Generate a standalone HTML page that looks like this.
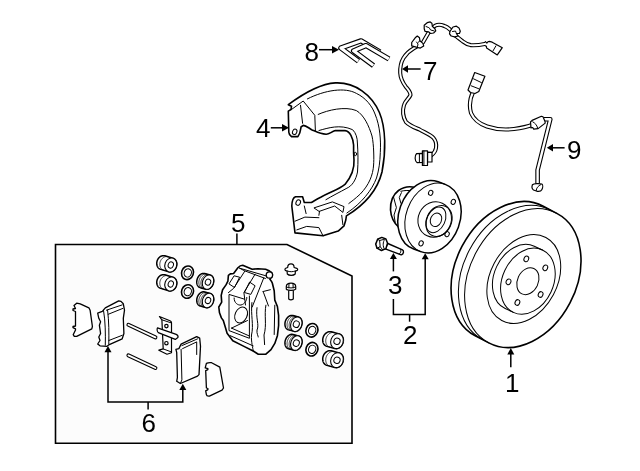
<!DOCTYPE html>
<html><head><meta charset="utf-8">
<style>
html,body{margin:0;padding:0;background:#fff;}
svg{position:absolute;left:0;top:0;}
text{font-family:"Liberation Sans",sans-serif;font-size:26px;fill:#000;}
.k{fill:none;stroke:#000;stroke-width:1.3;stroke-linejoin:round;stroke-linecap:round;}
.t{fill:#fff;stroke:#000;stroke-width:1.1;stroke-linejoin:round;stroke-linecap:round;}
.n{fill:none;stroke:#000;stroke-width:1;stroke-linejoin:round;stroke-linecap:round;}
.b{fill:none;stroke:#000;stroke-width:1.6;}
.ah{fill:#000;stroke:none;}
</style></head><body>
<svg width="640" height="471" viewBox="0 0 640 471">
<!-- box -->
<path class="b" style="fill:#fcfcfc" d="M55.5,244.5 H287 L352,276 V443.3 H55.5 Z"/>





<!-- caliper -->
<g id="caliper">
<path class="t" style="stroke-width:1.6" d="M218.8,307 L221.7,302.1 L221.2,295.4 L222.6,289.7 L226,284.9 L227.9,281.1 L228.4,275.4 L230.3,273.9 L233.6,273.5 L237.9,267.7 C239.5,266 241,265.3 242.7,265.3 L252.2,269.2 L258,268.7 L265.6,269.2 C268,270 270,271 271.5,272.5 C273,274.5 272.5,277 269.9,279.2 C271,280.5 272,282 272.3,283 L274.2,290.7 L274.8,300.1 L277.4,306.5 L278.6,315.4 L278.6,325.5 L277.4,335.7 L274.8,343.4 L271,349.7 L265.9,354.2 L258.3,354.2 L253.2,351 L243,345.9 L232.8,340.8 L227.1,333.2 L225.2,326.8 L223.3,320.5 L221.4,317.9 L219.5,312.8 Z"/>
<g class="n">
<path d="M239.6,268.2 L266.2,275.9"/>
<path d="M239.6,268.2 L244.3,270.7 L265.4,278.5"/>
<path d="M244.8,271.2 L233.6,288.4 L228.4,292.6"/>
<path d="M255.1,274.2 L243.9,292.6 L245.5,305"/>
<path d="M263.7,278 L252.2,307"/>
<path d="M234.5,275.9 L239.6,277.2 L234.5,287.5 L229.3,284.1 Z"/>
<path d="M249.9,282.3 L255.1,285.8 L250.8,294.4 L244.8,292.6 Z"/>
<circle cx="269.4" cy="275" r="3.2" fill="#fff" style="stroke-width:1.3"/>
<path d="M262.8,291.6 L270.4,289.7 M263.5,292.5 L268.5,306"/>
<path d="M229,295 L229,330.6 L249.4,338.3 L249.4,296"/>
<path d="M229.3,294.5 L244.6,299.2"/>
<path d="M231.5,328.1 L248.7,335.7 M231.5,328.1 L247.5,320.5"/>
<path d="M234.1,298 C234,303 238,305.5 241,305 C245,304 247,300 246.8,297.5"/>
<ellipse cx="241.1" cy="315" rx="6" ry="8.3" transform="rotate(25 241.1 315)"/>
<path d="M230.3,335.7 L253.2,345.9"/>
<path d="M251.9,302.6 C250.5,315 254,325 251.5,335 C251,342 253,348 253.2,351"/>
<path d="M257,307.7 C255.5,318 259.5,325 257,330 C256.5,334 258.5,336 258.3,337"/>
<path d="M265.9,305.2 C264,315 267,325 264,335 L264.6,344.6"/>
<path d="M274.8,305.2 L274.2,334.5"/>
</g>
</g>
<!-- bleeder -->
<g class="t" style="stroke-width:1.2">
<path d="M287.7,267.5 C287.7,265 289.5,263.9 291,263.9 C292.5,263.9 294.1,265 294.1,267.5 L296.8,268.3 C298.3,269 297.8,270.6 296,270.9 L295.4,271 L295.2,274 C293.5,275.8 289,275.8 287.3,274 L287.1,271 L286.5,270.9 C284.8,270.6 284.4,269 285.7,268.3 Z"/>
<path class="n" d="M287.3,271 C290,272 292.5,272 295.2,271"/>
<path d="M288.7,290 L288.7,299 C289.8,300 292,300 293.3,299 L293.3,290 Z"/>
<path d="M286.3,289.2 L286.3,286.3 C286.5,284.2 288.5,283.1 291,283.1 C293.5,283.1 295.5,284.2 295.7,286.3 L295.7,289.2 C294.5,290.8 287.5,290.8 286.3,289.2 Z"/>
<path class="n" d="M286.5,287 C289.5,288.3 292.5,288.3 295.5,287 M289,284 L288.8,287.8 M293,284 L293.2,287.8"/>
</g>
<!-- pins -->
<g fill="none" stroke-linecap="round">
<path stroke="#000" stroke-width="4" d="M128.4,324.8 L155.4,337.4 M128.4,355.4 L155.4,368"/>
<path stroke="#fff" stroke-width="1.8" d="M128.4,324.8 L155.4,337.4 M128.4,355.4 L155.4,368"/>
</g>
<!-- spring clip -->
<g class="t" style="stroke-width:1.2">
<path d="M159.4,316.5 L170,320.8 C171,321.3 171.5,321.8 171.5,322.8 L171.5,352.8 L167,354.2 L158.8,350.2 L163.2,348.9 L161.9,319.8 Z"/>
<path class="n" d="M161.9,319.8 L170,322.5 L171.5,322.8 M163.2,348.9 L171.5,352"/>
<path d="M157.5,327.9 L176.2,334.4 C177.5,335 178.3,336.5 177.9,337.6 L175.3,339.4 L158.3,332.6 C157,331.5 156.8,329 157.5,327.9 Z"/>
<circle cx="166.4" cy="326.1" r="1.7"/>
<circle cx="166.4" cy="343.2" r="1.7"/>
</g>
<!-- right pad -->
<g class="t" style="stroke-width:1.3">
<path d="M175.9,349.3 L178.9,348.6 L181.1,344.1 L196.7,336.7 L199.7,338.2 L200.5,346.3 L199,374.6 L197.5,376.1 L180.4,383.5 L176.7,381.3 L177.4,377.5 L176.7,352.3 Z"/>
<g class="n">
<path d="M181.9,345.6 L197.5,338.9 M182.6,348.6 L196.7,341.9 L196.7,354.5 M181.1,349.3 L181.9,379.8 L180.4,383.5"/>
</g>
</g>
<!-- left shim -->
<path class="t" style="stroke-width:1.3" d="M76.7,303.2 L80.2,303.8 L88.9,307.8 L90.1,310.2 L92.4,326.5 L91.8,328.8 L76.7,336.4 L74.3,336.4 L73.2,334.7 L75.5,330 L75.5,328.8 L73,327.7 L73,326.5 L75.5,326 L75.5,311.5 L73,310.5 L73,309 L75.5,308.5 L74,305.5 Z"/>
<!-- left pad -->
<g class="t" style="stroke-width:1.3">
<path d="M97.7,313.1 L102.3,311.3 L105.3,307.8 L118.7,300.8 L121,301.4 L123.3,303.8 L124.5,310.2 L123.3,318.3 L123.9,333.5 L122.2,338.8 L109.3,344.6 L107,346.3 L100,345.8 L97.7,344 L100,340.5 L98.8,337 L100.6,333.5 L99.4,325.3 L100.6,321.8 L98.8,318.3 Z"/>
<g class="n">
<path d="M106.4,310.2 L122.2,304.9 M108.2,314.3 L122.8,308.4"/>
<path d="M107.6,310.2 C109,322 109,333 108.8,344"/>
<path d="M108.8,340.5 L122.2,335.3"/>
<path d="M103.5,310.2 C105.5,322 105.5,334 105.3,345.2"/>
</g>
</g>
<!-- right shim -->
<path class="t" style="stroke-width:1.3" d="M206.4,363.4 C208,362.6 210,362.4 211.6,362.7 L219.8,367.1 L223.5,388 L222,390.2 L209.4,396.1 C207.5,396.3 206.5,395.5 206.4,394.6 L205.7,390.9 L207.9,389.6 L207.9,388.5 L206.4,388 L205.7,370.6 L207.9,369.6 L207.9,368.6 L205.2,367.9 Z"/>
<!-- box contents -->
<g id="kit">
<path d="M156.75,263.29 L156.77,262.83 L156.82,262.38 L156.89,261.92 L156.99,261.47 L157.11,261.02 L157.26,260.58 L157.43,260.15 L157.62,259.73 L157.84,259.32 L158.07,258.92 L158.33,258.54 L158.61,258.18 L158.90,257.84 L159.21,257.52 L159.54,257.22 L159.88,256.94 L160.23,256.68 L160.60,256.46 L160.97,256.25 L161.35,256.08 L161.74,255.93 L162.13,255.81 L162.53,255.72 L162.92,255.66 L163.32,255.63 L163.71,255.63 L164.10,255.66 L164.48,255.72 L164.86,255.81 L172.86,258.21 L173.23,258.33 L173.59,258.47 L173.93,258.65 L174.26,258.85 L174.58,259.08 L174.88,259.33 L175.17,259.61 L175.43,259.91 L175.68,260.23 L175.90,260.57 L176.10,260.94 L176.28,261.31 L176.44,261.71 L176.57,262.12 L176.68,262.54 L176.76,262.97 L176.82,263.41 L176.85,263.86 L176.85,264.31 L176.83,264.77 L176.78,265.22 L176.71,265.68 L176.61,266.13 L176.49,266.58 L176.34,267.02 L176.17,267.45 L175.98,267.87 L175.76,268.28 L175.53,268.68 L175.27,269.06 L174.99,269.42 L174.70,269.76 L174.39,270.08 L174.06,270.38 L173.72,270.66 L173.37,270.92 L173.00,271.14 L172.63,271.35 L172.25,271.52 L171.86,271.67 L171.47,271.79 L171.07,271.88 L170.68,271.94 L170.28,271.97 L169.89,271.97 L169.50,271.94 L169.12,271.88 L168.74,271.79 L160.74,269.39 L160.37,269.27 L160.01,269.13 L159.67,268.95 L159.34,268.75 L159.02,268.52 L158.72,268.27 L158.43,267.99 L158.17,267.69 L157.92,267.37 L157.70,267.03 L157.50,266.66 L157.32,266.29 L157.16,265.89 L157.03,265.48 L156.92,265.06 L156.84,264.63 L156.78,264.19 L156.75,263.74 Z" fill="#fff" stroke="#000" stroke-width="1.5" stroke-linejoin="round"/><path class="n" style="stroke-width:0.8" d="M163.41,270.18 L163.05,270.04 L162.71,269.86 L162.38,269.66 L162.06,269.43 L161.76,269.18 L161.47,268.90 L161.21,268.60 L160.96,268.28 L160.74,267.94 L160.54,267.58 L160.36,267.20 L160.20,266.80 L160.07,266.39 L159.96,265.97 L159.88,265.54 L159.82,265.10 L159.79,264.65 L159.79,264.20 L159.81,263.75 L159.86,263.29 L159.93,262.83 L160.03,262.38 L160.15,261.93 L160.30,261.49 L160.47,261.06 L160.66,260.64 L160.88,260.23 L161.11,259.84 L161.37,259.46 L161.65,259.09 L161.94,258.75 L162.25,258.43 L162.58,258.13 L162.92,257.85 L163.27,257.60 L163.64,257.37 L164.01,257.17 L164.39,256.99 L164.78,256.84 L165.17,256.73 L165.57,256.64 L165.96,256.58 L166.36,256.55 L166.75,256.55 L167.14,256.57 L167.52,256.63 L167.90,256.72"/><ellipse cx="170.8" cy="265" rx="5.9" ry="7.1" transform="rotate(20 170.8 265)" fill="#fff" stroke="#000" stroke-width="1.1"/><ellipse cx="170.8" cy="265" rx="2.6" ry="3.2" transform="rotate(20 170.8 265)" fill="none" stroke="#000" stroke-width="1.0"/>
<path d="M156.75,282.29 L156.77,281.83 L156.82,281.38 L156.89,280.92 L156.99,280.47 L157.11,280.02 L157.26,279.58 L157.43,279.15 L157.62,278.73 L157.84,278.32 L158.07,277.92 L158.33,277.54 L158.61,277.18 L158.90,276.84 L159.21,276.52 L159.54,276.22 L159.88,275.94 L160.23,275.68 L160.60,275.46 L160.97,275.25 L161.35,275.08 L161.74,274.93 L162.13,274.81 L162.53,274.72 L162.92,274.66 L163.32,274.63 L163.71,274.63 L164.10,274.66 L164.48,274.72 L164.86,274.81 L172.86,277.21 L173.23,277.33 L173.59,277.47 L173.93,277.65 L174.26,277.85 L174.58,278.08 L174.88,278.33 L175.17,278.61 L175.43,278.91 L175.68,279.23 L175.90,279.57 L176.10,279.94 L176.28,280.31 L176.44,280.71 L176.57,281.12 L176.68,281.54 L176.76,281.97 L176.82,282.41 L176.85,282.86 L176.85,283.31 L176.83,283.77 L176.78,284.22 L176.71,284.68 L176.61,285.13 L176.49,285.58 L176.34,286.02 L176.17,286.45 L175.98,286.87 L175.76,287.28 L175.53,287.68 L175.27,288.06 L174.99,288.42 L174.70,288.76 L174.39,289.08 L174.06,289.38 L173.72,289.66 L173.37,289.92 L173.00,290.14 L172.63,290.35 L172.25,290.52 L171.86,290.67 L171.47,290.79 L171.07,290.88 L170.68,290.94 L170.28,290.97 L169.89,290.97 L169.50,290.94 L169.12,290.88 L168.74,290.79 L160.74,288.39 L160.37,288.27 L160.01,288.13 L159.67,287.95 L159.34,287.75 L159.02,287.52 L158.72,287.27 L158.43,286.99 L158.17,286.69 L157.92,286.37 L157.70,286.03 L157.50,285.66 L157.32,285.29 L157.16,284.89 L157.03,284.48 L156.92,284.06 L156.84,283.63 L156.78,283.19 L156.75,282.74 Z" fill="#fff" stroke="#000" stroke-width="1.5" stroke-linejoin="round"/><path class="n" style="stroke-width:0.8" d="M163.41,289.18 L163.05,289.04 L162.71,288.86 L162.38,288.66 L162.06,288.43 L161.76,288.18 L161.47,287.90 L161.21,287.60 L160.96,287.28 L160.74,286.94 L160.54,286.58 L160.36,286.20 L160.20,285.80 L160.07,285.39 L159.96,284.97 L159.88,284.54 L159.82,284.10 L159.79,283.65 L159.79,283.20 L159.81,282.75 L159.86,282.29 L159.93,281.83 L160.03,281.38 L160.15,280.93 L160.30,280.49 L160.47,280.06 L160.66,279.64 L160.88,279.23 L161.11,278.84 L161.37,278.46 L161.65,278.09 L161.94,277.75 L162.25,277.43 L162.58,277.13 L162.92,276.85 L163.27,276.60 L163.64,276.37 L164.01,276.17 L164.39,275.99 L164.78,275.84 L165.17,275.73 L165.57,275.64 L165.96,275.58 L166.36,275.55 L166.75,275.55 L167.14,275.57 L167.52,275.63 L167.90,275.72"/><ellipse cx="170.8" cy="284" rx="5.9" ry="7.1" transform="rotate(20 170.8 284)" fill="#fff" stroke="#000" stroke-width="1.1"/><ellipse cx="170.8" cy="284" rx="2.6" ry="3.2" transform="rotate(20 170.8 284)" fill="none" stroke="#000" stroke-width="1.0"/>
<g transform="translate(187.5,272.8) rotate(20)"><ellipse cx="0" cy="0" rx="5.9" ry="6.9" fill="#fff" stroke="#000" stroke-width="1.6"/><ellipse cx="0.3" cy="0" rx="3.6" ry="4.2" fill="none" stroke="#000" stroke-width="1"/></g>
<g transform="translate(187.5,291.5) rotate(20)"><ellipse cx="0" cy="0" rx="5.9" ry="6.9" fill="#fff" stroke="#000" stroke-width="1.6"/><ellipse cx="0.3" cy="0" rx="3.6" ry="4.2" fill="none" stroke="#000" stroke-width="1"/></g>
<path d="M196.75,281.99 L196.76,281.52 L196.79,281.05 L196.85,280.58 L196.94,280.11 L197.05,279.64 L197.18,279.18 L197.33,278.72 L197.51,278.27 L197.71,277.83 L197.92,277.40 L198.16,276.98 L198.42,276.58 L198.69,276.20 L198.98,275.84 L199.29,275.49 L199.61,275.17 L199.94,274.87 L200.28,274.60 L200.64,274.35 L201.00,274.13 L201.36,273.94 L201.73,273.77 L202.11,273.64 L202.48,273.53 L202.86,273.46 L203.24,273.41 L203.61,273.40 L203.97,273.41 L204.33,273.46 L204.69,273.54 L210.19,275.04 L210.53,275.15 L210.86,275.28 L211.18,275.45 L211.49,275.65 L211.78,275.87 L212.06,276.12 L212.32,276.40 L212.56,276.70 L212.78,277.02 L212.98,277.36 L213.15,277.73 L213.31,278.11 L213.44,278.51 L213.55,278.93 L213.64,279.36 L213.70,279.80 L213.74,280.25 L213.75,280.71 L213.74,281.18 L213.71,281.65 L213.65,282.12 L213.56,282.59 L213.45,283.06 L213.32,283.52 L213.17,283.98 L212.99,284.43 L212.79,284.87 L212.58,285.30 L212.34,285.72 L212.08,286.12 L211.81,286.50 L211.52,286.86 L211.21,287.21 L210.89,287.53 L210.56,287.83 L210.22,288.10 L209.86,288.35 L209.50,288.57 L209.14,288.76 L208.77,288.93 L208.39,289.06 L208.02,289.17 L207.64,289.24 L207.26,289.29 L206.89,289.30 L206.53,289.29 L206.17,289.24 L205.81,289.16 L200.31,287.66 L199.97,287.55 L199.64,287.42 L199.32,287.25 L199.01,287.05 L198.72,286.83 L198.44,286.58 L198.18,286.30 L197.94,286.00 L197.72,285.68 L197.52,285.34 L197.35,284.97 L197.19,284.59 L197.06,284.19 L196.95,283.77 L196.86,283.34 L196.80,282.90 L196.76,282.45 Z" fill="#fff" stroke="#000" stroke-width="1.5" stroke-linejoin="round"/><path class="n" style="stroke-width:0.8" d="M202.06,288.12 L201.73,287.99 L201.41,287.82 L201.10,287.62 L200.81,287.40 L200.53,287.15 L200.27,286.87 L200.03,286.57 L199.81,286.25 L199.61,285.91 L199.44,285.54 L199.28,285.16 L199.15,284.76 L199.04,284.34 L198.95,283.91 L198.89,283.47 L198.85,283.02 L198.84,282.56 L198.85,282.09 L198.88,281.62 L198.94,281.15 L199.03,280.68 L199.14,280.21 L199.27,279.75 L199.42,279.29 L199.60,278.84 L199.80,278.40 L200.01,277.97 L200.25,277.55 L200.51,277.15 L200.78,276.77 L201.07,276.41 L201.38,276.06 L201.70,275.74 L202.03,275.44 L202.37,275.17 L202.73,274.92 L203.09,274.70 L203.45,274.51 L203.82,274.34 L204.20,274.21 L204.57,274.10 L204.95,274.03 L205.33,273.98 L205.70,273.97 L206.06,273.98 L206.42,274.03 L206.78,274.11"/><path class="n" style="stroke-width:0.8" d="M204.09,288.68 L203.76,288.54 L203.44,288.37 L203.13,288.18 L202.84,287.95 L202.57,287.71 L202.31,287.43 L202.07,287.13 L201.85,286.81 L201.65,286.46 L201.47,286.10 L201.31,285.71 L201.18,285.31 L201.07,284.90 L200.98,284.47 L200.92,284.02 L200.88,283.57 L200.87,283.11 L200.88,282.65 L200.92,282.18 L200.98,281.71 L201.06,281.24 L201.17,280.77 L201.30,280.30 L201.46,279.84 L201.63,279.39 L201.83,278.95 L202.05,278.52 L202.29,278.11 L202.54,277.71 L202.82,277.33 L203.11,276.96 L203.41,276.62 L203.73,276.30 L204.07,276.00 L204.41,275.73 L204.76,275.48 L205.12,275.26 L205.49,275.06 L205.86,274.90 L206.23,274.76 L206.61,274.66 L206.99,274.58 L207.36,274.54 L207.73,274.52 L208.10,274.54 L208.46,274.59 L208.81,274.66"/><ellipse cx="208" cy="282.1" rx="5.5" ry="7.4" transform="rotate(20 208 282.1)" fill="#fff" stroke="#000" stroke-width="1.1"/><ellipse cx="208" cy="282.1" rx="2.7" ry="3.1" transform="rotate(20 208 282.1)" fill="none" stroke="#000" stroke-width="1.0"/>
<path d="M196.75,300.39 L196.76,299.92 L196.79,299.45 L196.85,298.98 L196.94,298.51 L197.05,298.04 L197.18,297.58 L197.33,297.12 L197.51,296.67 L197.71,296.23 L197.92,295.80 L198.16,295.38 L198.42,294.98 L198.69,294.60 L198.98,294.24 L199.29,293.89 L199.61,293.57 L199.94,293.27 L200.28,293.00 L200.64,292.75 L201.00,292.53 L201.36,292.34 L201.73,292.17 L202.11,292.04 L202.48,291.93 L202.86,291.86 L203.24,291.81 L203.61,291.80 L203.97,291.81 L204.33,291.86 L204.69,291.94 L210.19,293.44 L210.53,293.55 L210.86,293.68 L211.18,293.85 L211.49,294.05 L211.78,294.27 L212.06,294.52 L212.32,294.80 L212.56,295.10 L212.78,295.42 L212.98,295.76 L213.15,296.13 L213.31,296.51 L213.44,296.91 L213.55,297.33 L213.64,297.76 L213.70,298.20 L213.74,298.65 L213.75,299.11 L213.74,299.58 L213.71,300.05 L213.65,300.52 L213.56,300.99 L213.45,301.46 L213.32,301.92 L213.17,302.38 L212.99,302.83 L212.79,303.27 L212.58,303.70 L212.34,304.12 L212.08,304.52 L211.81,304.90 L211.52,305.26 L211.21,305.61 L210.89,305.93 L210.56,306.23 L210.22,306.50 L209.86,306.75 L209.50,306.97 L209.14,307.16 L208.77,307.33 L208.39,307.46 L208.02,307.57 L207.64,307.64 L207.26,307.69 L206.89,307.70 L206.53,307.69 L206.17,307.64 L205.81,307.56 L200.31,306.06 L199.97,305.95 L199.64,305.82 L199.32,305.65 L199.01,305.45 L198.72,305.23 L198.44,304.98 L198.18,304.70 L197.94,304.40 L197.72,304.08 L197.52,303.74 L197.35,303.37 L197.19,302.99 L197.06,302.59 L196.95,302.17 L196.86,301.74 L196.80,301.30 L196.76,300.85 Z" fill="#fff" stroke="#000" stroke-width="1.5" stroke-linejoin="round"/><path class="n" style="stroke-width:0.8" d="M202.06,306.52 L201.73,306.39 L201.41,306.22 L201.10,306.02 L200.81,305.80 L200.53,305.55 L200.27,305.27 L200.03,304.97 L199.81,304.65 L199.61,304.31 L199.44,303.94 L199.28,303.56 L199.15,303.16 L199.04,302.74 L198.95,302.31 L198.89,301.87 L198.85,301.42 L198.84,300.96 L198.85,300.49 L198.88,300.02 L198.94,299.55 L199.03,299.08 L199.14,298.61 L199.27,298.15 L199.42,297.69 L199.60,297.24 L199.80,296.80 L200.01,296.37 L200.25,295.95 L200.51,295.55 L200.78,295.17 L201.07,294.81 L201.38,294.46 L201.70,294.14 L202.03,293.84 L202.37,293.57 L202.73,293.32 L203.09,293.10 L203.45,292.91 L203.82,292.74 L204.20,292.61 L204.57,292.50 L204.95,292.43 L205.33,292.38 L205.70,292.37 L206.06,292.38 L206.42,292.43 L206.78,292.51"/><path class="n" style="stroke-width:0.8" d="M204.09,307.08 L203.76,306.94 L203.44,306.77 L203.13,306.58 L202.84,306.35 L202.57,306.11 L202.31,305.83 L202.07,305.53 L201.85,305.21 L201.65,304.86 L201.47,304.50 L201.31,304.11 L201.18,303.71 L201.07,303.30 L200.98,302.87 L200.92,302.42 L200.88,301.97 L200.87,301.51 L200.88,301.05 L200.92,300.58 L200.98,300.11 L201.06,299.64 L201.17,299.17 L201.30,298.70 L201.46,298.24 L201.63,297.79 L201.83,297.35 L202.05,296.92 L202.29,296.51 L202.54,296.11 L202.82,295.73 L203.11,295.36 L203.41,295.02 L203.73,294.70 L204.07,294.40 L204.41,294.13 L204.76,293.88 L205.12,293.66 L205.49,293.46 L205.86,293.30 L206.23,293.16 L206.61,293.06 L206.99,292.98 L207.36,292.94 L207.73,292.92 L208.10,292.94 L208.46,292.99 L208.81,293.06"/><ellipse cx="208" cy="300.5" rx="5.5" ry="7.4" transform="rotate(20 208 300.5)" fill="#fff" stroke="#000" stroke-width="1.1"/><ellipse cx="208" cy="300.5" rx="2.7" ry="3.1" transform="rotate(20 208 300.5)" fill="none" stroke="#000" stroke-width="1.0"/>
<path d="M284.93,324.13 L284.94,323.66 L284.98,323.18 L285.04,322.71 L285.13,322.23 L285.24,321.75 L285.37,321.28 L285.53,320.82 L285.71,320.36 L285.91,319.92 L286.13,319.48 L286.37,319.06 L286.63,318.65 L286.91,318.27 L287.20,317.90 L287.51,317.55 L287.83,317.22 L288.16,316.92 L288.51,316.64 L288.86,316.39 L289.22,316.16 L289.59,315.96 L289.96,315.79 L290.34,315.66 L290.71,315.55 L291.09,315.47 L291.47,315.42 L291.84,315.41 L292.21,315.42 L292.57,315.47 L292.92,315.54 L298.52,317.04 L298.87,317.15 L299.20,317.29 L299.52,317.46 L299.82,317.65 L300.12,317.88 L300.39,318.13 L300.65,318.41 L300.89,318.71 L301.11,319.04 L301.30,319.39 L301.48,319.75 L301.64,320.14 L301.77,320.55 L301.88,320.97 L301.96,321.40 L302.02,321.85 L302.06,322.31 L302.07,322.77 L302.06,323.24 L302.02,323.72 L301.96,324.19 L301.87,324.67 L301.76,325.15 L301.63,325.62 L301.47,326.08 L301.29,326.54 L301.09,326.98 L300.87,327.42 L300.63,327.84 L300.37,328.25 L300.09,328.63 L299.80,329.00 L299.49,329.35 L299.17,329.68 L298.84,329.98 L298.49,330.26 L298.14,330.51 L297.78,330.74 L297.41,330.94 L297.04,331.11 L296.66,331.24 L296.29,331.35 L295.91,331.43 L295.53,331.48 L295.16,331.49 L294.79,331.48 L294.43,331.43 L294.08,331.36 L288.48,329.86 L288.13,329.75 L287.80,329.61 L287.48,329.44 L287.18,329.25 L286.88,329.02 L286.61,328.77 L286.35,328.49 L286.11,328.19 L285.89,327.86 L285.70,327.51 L285.52,327.15 L285.36,326.76 L285.23,326.35 L285.12,325.93 L285.04,325.50 L284.98,325.05 L284.94,324.59 Z" fill="#fff" stroke="#000" stroke-width="1.5" stroke-linejoin="round"/><path class="n" style="stroke-width:0.8" d="M290.26,330.32 L289.93,330.18 L289.61,330.01 L289.30,329.82 L289.01,329.59 L288.74,329.34 L288.48,329.06 L288.24,328.76 L288.02,328.43 L287.82,328.08 L287.65,327.72 L287.49,327.33 L287.36,326.92 L287.25,326.50 L287.17,326.07 L287.11,325.62 L287.07,325.16 L287.06,324.70 L287.07,324.23 L287.11,323.75 L287.17,323.28 L287.26,322.80 L287.37,322.32 L287.50,321.85 L287.66,321.39 L287.84,320.93 L288.04,320.49 L288.26,320.05 L288.50,319.63 L288.76,319.22 L289.03,318.84 L289.33,318.47 L289.63,318.12 L289.96,317.79 L290.29,317.49 L290.63,317.21 L290.99,316.96 L291.35,316.73 L291.72,316.53 L292.09,316.36 L292.47,316.23 L292.84,316.12 L293.22,316.04 L293.60,315.99 L293.97,315.98 L294.34,315.99 L294.70,316.04 L295.05,316.11"/><path class="n" style="stroke-width:0.8" d="M292.33,330.87 L292.00,330.73 L291.68,330.57 L291.38,330.37 L291.08,330.15 L290.81,329.89 L290.55,329.62 L290.31,329.31 L290.09,328.99 L289.90,328.64 L289.72,328.27 L289.56,327.88 L289.43,327.48 L289.32,327.06 L289.24,326.62 L289.18,326.18 L289.14,325.72 L289.13,325.25 L289.14,324.78 L289.18,324.31 L289.24,323.83 L289.33,323.35 L289.44,322.88 L289.57,322.41 L289.73,321.94 L289.91,321.49 L290.11,321.04 L290.33,320.61 L290.57,320.18 L290.83,319.78 L291.11,319.39 L291.40,319.02 L291.71,318.67 L292.03,318.35 L292.36,318.04 L292.71,317.76 L293.06,317.51 L293.42,317.29 L293.79,317.09 L294.16,316.92 L294.54,316.78 L294.91,316.67 L295.29,316.59 L295.67,316.55 L296.04,316.53 L296.41,316.55 L296.77,316.59 L297.12,316.67"/><ellipse cx="296.3" cy="324.2" rx="5.5" ry="7.5" transform="rotate(20 296.3 324.2)" fill="#fff" stroke="#000" stroke-width="1.1"/><ellipse cx="296.3" cy="324.2" rx="3.0" ry="3.3" transform="rotate(20 296.3 324.2)" fill="none" stroke="#000" stroke-width="1.0"/>
<path d="M284.93,343.03 L284.94,342.56 L284.98,342.08 L285.04,341.61 L285.13,341.13 L285.24,340.65 L285.37,340.18 L285.53,339.72 L285.71,339.26 L285.91,338.82 L286.13,338.38 L286.37,337.96 L286.63,337.55 L286.91,337.17 L287.20,336.80 L287.51,336.45 L287.83,336.12 L288.16,335.82 L288.51,335.54 L288.86,335.29 L289.22,335.06 L289.59,334.86 L289.96,334.69 L290.34,334.56 L290.71,334.45 L291.09,334.37 L291.47,334.32 L291.84,334.31 L292.21,334.32 L292.57,334.37 L292.92,334.44 L298.52,335.94 L298.87,336.05 L299.20,336.19 L299.52,336.36 L299.82,336.55 L300.12,336.78 L300.39,337.03 L300.65,337.31 L300.89,337.61 L301.11,337.94 L301.30,338.29 L301.48,338.65 L301.64,339.04 L301.77,339.45 L301.88,339.87 L301.96,340.30 L302.02,340.75 L302.06,341.21 L302.07,341.67 L302.06,342.14 L302.02,342.62 L301.96,343.09 L301.87,343.57 L301.76,344.05 L301.63,344.52 L301.47,344.98 L301.29,345.44 L301.09,345.88 L300.87,346.32 L300.63,346.74 L300.37,347.15 L300.09,347.53 L299.80,347.90 L299.49,348.25 L299.17,348.58 L298.84,348.88 L298.49,349.16 L298.14,349.41 L297.78,349.64 L297.41,349.84 L297.04,350.01 L296.66,350.14 L296.29,350.25 L295.91,350.33 L295.53,350.38 L295.16,350.39 L294.79,350.38 L294.43,350.33 L294.08,350.26 L288.48,348.76 L288.13,348.65 L287.80,348.51 L287.48,348.34 L287.18,348.15 L286.88,347.92 L286.61,347.67 L286.35,347.39 L286.11,347.09 L285.89,346.76 L285.70,346.41 L285.52,346.05 L285.36,345.66 L285.23,345.25 L285.12,344.83 L285.04,344.40 L284.98,343.95 L284.94,343.49 Z" fill="#fff" stroke="#000" stroke-width="1.5" stroke-linejoin="round"/><path class="n" style="stroke-width:0.8" d="M290.26,349.22 L289.93,349.08 L289.61,348.91 L289.30,348.72 L289.01,348.49 L288.74,348.24 L288.48,347.96 L288.24,347.66 L288.02,347.33 L287.82,346.98 L287.65,346.62 L287.49,346.23 L287.36,345.82 L287.25,345.40 L287.17,344.97 L287.11,344.52 L287.07,344.06 L287.06,343.60 L287.07,343.13 L287.11,342.65 L287.17,342.18 L287.26,341.70 L287.37,341.22 L287.50,340.75 L287.66,340.29 L287.84,339.83 L288.04,339.39 L288.26,338.95 L288.50,338.53 L288.76,338.12 L289.03,337.74 L289.33,337.37 L289.63,337.02 L289.96,336.69 L290.29,336.39 L290.63,336.11 L290.99,335.86 L291.35,335.63 L291.72,335.43 L292.09,335.26 L292.47,335.13 L292.84,335.02 L293.22,334.94 L293.60,334.89 L293.97,334.88 L294.34,334.89 L294.70,334.94 L295.05,335.01"/><path class="n" style="stroke-width:0.8" d="M292.33,349.77 L292.00,349.63 L291.68,349.47 L291.38,349.27 L291.08,349.05 L290.81,348.79 L290.55,348.52 L290.31,348.21 L290.09,347.89 L289.90,347.54 L289.72,347.17 L289.56,346.78 L289.43,346.38 L289.32,345.96 L289.24,345.52 L289.18,345.08 L289.14,344.62 L289.13,344.15 L289.14,343.68 L289.18,343.21 L289.24,342.73 L289.33,342.25 L289.44,341.78 L289.57,341.31 L289.73,340.84 L289.91,340.39 L290.11,339.94 L290.33,339.51 L290.57,339.08 L290.83,338.68 L291.11,338.29 L291.40,337.92 L291.71,337.57 L292.03,337.25 L292.36,336.94 L292.71,336.66 L293.06,336.41 L293.42,336.19 L293.79,335.99 L294.16,335.82 L294.54,335.68 L294.91,335.57 L295.29,335.49 L295.67,335.45 L296.04,335.43 L296.41,335.45 L296.77,335.49 L297.12,335.57"/><ellipse cx="296.3" cy="343.1" rx="5.5" ry="7.5" transform="rotate(20 296.3 343.1)" fill="#fff" stroke="#000" stroke-width="1.1"/><ellipse cx="296.3" cy="343.1" rx="3.0" ry="3.3" transform="rotate(20 296.3 343.1)" fill="none" stroke="#000" stroke-width="1.0"/>
<g transform="translate(311.9,330.3) rotate(20)"><ellipse cx="0" cy="0" rx="5.9" ry="6.9" fill="#fff" stroke="#000" stroke-width="1.6"/><ellipse cx="0.3" cy="0" rx="3.6" ry="4.2" fill="none" stroke="#000" stroke-width="1"/></g>
<g transform="translate(311.9,349.2) rotate(20)"><ellipse cx="0" cy="0" rx="5.9" ry="6.9" fill="#fff" stroke="#000" stroke-width="1.6"/><ellipse cx="0.3" cy="0" rx="3.6" ry="4.2" fill="none" stroke="#000" stroke-width="1"/></g>
<path d="M322.72,339.87 L322.75,339.39 L322.80,338.90 L322.88,338.41 L322.98,337.93 L323.12,337.45 L323.27,336.98 L323.46,336.52 L323.66,336.07 L323.89,335.63 L324.15,335.20 L324.42,334.80 L324.71,334.41 L325.02,334.04 L325.35,333.69 L325.70,333.37 L326.06,333.07 L326.43,332.80 L326.82,332.55 L327.21,332.33 L327.62,332.14 L328.02,331.98 L328.44,331.85 L328.85,331.76 L329.27,331.69 L329.69,331.66 L330.10,331.65 L330.51,331.68 L330.92,331.74 L331.31,331.83 L339.21,333.93 L339.60,334.06 L339.97,334.21 L340.34,334.40 L340.69,334.61 L341.02,334.85 L341.33,335.12 L341.63,335.41 L341.91,335.73 L342.16,336.08 L342.40,336.44 L342.61,336.83 L342.80,337.23 L342.96,337.65 L343.09,338.09 L343.20,338.53 L343.29,339.00 L343.35,339.47 L343.37,339.94 L343.38,340.43 L343.35,340.91 L343.30,341.40 L343.22,341.89 L343.12,342.37 L342.98,342.85 L342.83,343.32 L342.64,343.78 L342.44,344.23 L342.21,344.67 L341.95,345.10 L341.68,345.50 L341.39,345.89 L341.08,346.26 L340.75,346.61 L340.40,346.93 L340.04,347.23 L339.67,347.50 L339.28,347.75 L338.89,347.97 L338.48,348.16 L338.08,348.32 L337.66,348.45 L337.25,348.54 L336.83,348.61 L336.41,348.64 L336.00,348.65 L335.59,348.62 L335.18,348.56 L334.79,348.47 L326.89,346.37 L326.50,346.24 L326.13,346.09 L325.76,345.90 L325.41,345.69 L325.08,345.45 L324.77,345.18 L324.47,344.89 L324.19,344.57 L323.94,344.22 L323.70,343.86 L323.49,343.47 L323.30,343.07 L323.14,342.65 L323.01,342.21 L322.90,341.77 L322.81,341.30 L322.75,340.83 L322.73,340.36 Z" fill="#fff" stroke="#000" stroke-width="1.5" stroke-linejoin="round"/><path class="n" style="stroke-width:0.8" d="M329.89,347.16 L329.50,347.04 L329.13,346.89 L328.76,346.70 L328.42,346.49 L328.08,346.25 L327.77,345.98 L327.47,345.68 L327.19,345.37 L326.94,345.02 L326.70,344.66 L326.49,344.27 L326.31,343.87 L326.14,343.45 L326.01,343.01 L325.90,342.56 L325.81,342.10 L325.76,341.63 L325.73,341.15 L325.72,340.67 L325.75,340.19 L325.80,339.70 L325.88,339.21 L325.99,338.73 L326.12,338.25 L326.28,337.78 L326.46,337.31 L326.67,336.86 L326.89,336.42 L327.15,336.00 L327.42,335.59 L327.71,335.21 L328.03,334.84 L328.36,334.49 L328.70,334.17 L329.06,333.87 L329.44,333.59 L329.82,333.35 L330.21,333.13 L330.62,332.94 L331.03,332.78 L331.44,332.65 L331.86,332.55 L332.27,332.49 L332.69,332.45 L333.10,332.45 L333.51,332.48 L333.92,332.54"/><ellipse cx="337" cy="341.2" rx="6.2" ry="7.6" transform="rotate(20 337 341.2)" fill="#fff" stroke="#000" stroke-width="1.1"/><ellipse cx="337" cy="341.2" rx="3.1" ry="3.2" transform="rotate(20 337 341.2)" fill="none" stroke="#000" stroke-width="1.0"/>
<path d="M322.72,358.87 L322.75,358.39 L322.80,357.90 L322.88,357.41 L322.98,356.93 L323.12,356.45 L323.27,355.98 L323.46,355.52 L323.66,355.07 L323.89,354.63 L324.15,354.20 L324.42,353.80 L324.71,353.41 L325.02,353.04 L325.35,352.69 L325.70,352.37 L326.06,352.07 L326.43,351.80 L326.82,351.55 L327.21,351.33 L327.62,351.14 L328.02,350.98 L328.44,350.85 L328.85,350.76 L329.27,350.69 L329.69,350.66 L330.10,350.65 L330.51,350.68 L330.92,350.74 L331.31,350.83 L339.21,352.93 L339.60,353.06 L339.97,353.21 L340.34,353.40 L340.69,353.61 L341.02,353.85 L341.33,354.12 L341.63,354.41 L341.91,354.73 L342.16,355.08 L342.40,355.44 L342.61,355.83 L342.80,356.23 L342.96,356.65 L343.09,357.09 L343.20,357.53 L343.29,358.00 L343.35,358.47 L343.37,358.94 L343.38,359.43 L343.35,359.91 L343.30,360.40 L343.22,360.89 L343.12,361.37 L342.98,361.85 L342.83,362.32 L342.64,362.78 L342.44,363.23 L342.21,363.67 L341.95,364.10 L341.68,364.50 L341.39,364.89 L341.08,365.26 L340.75,365.61 L340.40,365.93 L340.04,366.23 L339.67,366.50 L339.28,366.75 L338.89,366.97 L338.48,367.16 L338.08,367.32 L337.66,367.45 L337.25,367.54 L336.83,367.61 L336.41,367.64 L336.00,367.65 L335.59,367.62 L335.18,367.56 L334.79,367.47 L326.89,365.37 L326.50,365.24 L326.13,365.09 L325.76,364.90 L325.41,364.69 L325.08,364.45 L324.77,364.18 L324.47,363.89 L324.19,363.57 L323.94,363.22 L323.70,362.86 L323.49,362.47 L323.30,362.07 L323.14,361.65 L323.01,361.21 L322.90,360.77 L322.81,360.30 L322.75,359.83 L322.73,359.36 Z" fill="#fff" stroke="#000" stroke-width="1.5" stroke-linejoin="round"/><path class="n" style="stroke-width:0.8" d="M329.89,366.16 L329.50,366.04 L329.13,365.89 L328.76,365.70 L328.42,365.49 L328.08,365.25 L327.77,364.98 L327.47,364.68 L327.19,364.37 L326.94,364.02 L326.70,363.66 L326.49,363.27 L326.31,362.87 L326.14,362.45 L326.01,362.01 L325.90,361.56 L325.81,361.10 L325.76,360.63 L325.73,360.15 L325.72,359.67 L325.75,359.19 L325.80,358.70 L325.88,358.21 L325.99,357.73 L326.12,357.25 L326.28,356.78 L326.46,356.31 L326.67,355.86 L326.89,355.42 L327.15,355.00 L327.42,354.59 L327.71,354.21 L328.03,353.84 L328.36,353.49 L328.70,353.17 L329.06,352.87 L329.44,352.59 L329.82,352.35 L330.21,352.13 L330.62,351.94 L331.03,351.78 L331.44,351.65 L331.86,351.55 L332.27,351.49 L332.69,351.45 L333.10,351.45 L333.51,351.48 L333.92,351.54"/><ellipse cx="337" cy="360.2" rx="6.2" ry="7.6" transform="rotate(20 337 360.2)" fill="#fff" stroke="#000" stroke-width="1.1"/><ellipse cx="337" cy="360.2" rx="3.1" ry="3.2" transform="rotate(20 337 360.2)" fill="none" stroke="#000" stroke-width="1.0"/>
</g>
<!-- clip part 8 -->
<g id="clip8" fill="none" stroke-linejoin="round" stroke-linecap="butt">
<path stroke="#000" stroke-width="5.2" d="M358.5,61.2 L340.8,48 L361,40.8 L380,52"/>
<path stroke="#fff" stroke-width="3" d="M358.2,61 L340.8,48 L361,40.8 L379.8,51.9"/>
<path stroke="#000" stroke-width="5.2" d="M373.5,65.6 L353.5,50.8 L366,45.5 L389,59"/>
<path stroke="#fff" stroke-width="3" d="M373.2,65.4 L353.5,50.8 L366,45.5 L388.8,58.9"/>
</g>
<!-- wire part 7 -->
<g id="wire7" fill="none" stroke-linejoin="round" stroke-linecap="butt">
<path stroke="#000" stroke-width="4.1" d="M486,43.7 C482,44.5 475,45.6 470.6,45.1 C466,44.2 464,42.2 462.2,40.9 C459,38.5 457,37 455.6,35.8 C452,31 449,27.5 444.4,26 C441,24.5 438.5,24 435.5,25.5 C433,27 431,29 429.8,30.5 L422.9,42.5 C420,45 417,46.5 413.5,48.5 C409,51 406,54 403.5,58 C400.5,63 400,68 400.2,73 C400.5,79 403,83 406,87 C408.5,90 410.5,92 410.5,95 C409.5,98 405,101 404,105 C402.5,110 403,117 406,122 C410,126 416,128 419.8,129.7 C426,133 431,135 433.5,138 C436,141 436.5,145 436,148 C435.5,151 434,153.5 431,155.5"/>
<path stroke="#fff" stroke-width="1.9" d="M486,43.7 C482,44.5 475,45.6 470.6,45.1 C466,44.2 464,42.2 462.2,40.9 C459,38.5 457,37 455.6,35.8 C452,31 449,27.5 444.4,26 C441,24.5 438.5,24 435.5,25.5 C433,27 431,29 429.8,30.5 L422.9,42.5 C420,45 417,46.5 413.5,48.5 C409,51 406,54 403.5,58 C400.5,63 400,68 400.2,73 C400.5,79 403,83 406,87 C408.5,90 410.5,92 410.5,95 C409.5,98 405,101 404,105 C402.5,110 403,117 406,122 C410,126 416,128 419.8,129.7 C426,133 431,135 433.5,138 C436,141 436.5,145 436,148 C435.5,151 434,153.5 431,155.5"/>
</g>
<g class="t" style="stroke-width:1.2">
<path d="M485.3,41.6 L486.9,43 C487.5,42 488.3,41.4 489.3,41.4 L492.2,42.2 L502.3,47.7 L497.3,54.9 L486.6,48 L486.4,46.4 L485.3,45.8"/>
<path class="n" d="M495.9,45.9 L493,50.9"/>
<path d="M411.7,42.5 L415.2,37.8 L417.3,36 L419.5,37.8 L419.9,40.8 L422.9,43.4 L423.7,45.9 L420.3,48.1 L418.2,47.6 L415.2,46.8 L411.7,45.9 Z"/>
<path class="n" d="M416.5,42 L418,44 L417.5,46.5 M419.9,40.8 L418,42.5"/>
<path d="M424.2,25.3 L427.2,22.7 L430.2,21.9 L431.9,23.2 L432.3,26.2 L434.9,28.7 L435.8,30.9 L433.6,33 L430.6,33.5 L428.5,31.8 L425,31.3 L424.2,28.7 Z"/>
<path class="n" d="M429.3,27.9 L430.6,30 L434.1,30.9 M426,26.5 L428.5,27.5"/>
<path d="M450,31.3 L453,27 L456.4,26.2 L459,27.9 L460.3,31.3 L459.4,33.5 L456.4,33.5 L458.1,36 L454.7,36.9 L451.2,36 L449.5,33.9 Z"/>
<path class="n" d="M452.5,31.5 L455.5,31 L456.4,33.5"/>
<path d="M423.4,153.4 L416.5,153.7 C414.6,155.5 414.6,161 417,162.6 L423.4,162.3 Z"/>
<path class="n" d="M419.4,154.3 V161.8"/>
<path d="M427.5,152.1 L432,152.4 L432,162 L427.5,162 Z"/>
<path d="M422.4,150.8 L427.5,150.8 L427.5,165.5 L422.4,165.5 Z"/>
<path class="n" d="M423.9,151 V165.3"/>
</g>
<!-- wear sensor part 9 -->
<g id="wire9" fill="none" stroke-linejoin="round" stroke-linecap="butt">
<path stroke="#000" stroke-width="4.2" d="M473.5,91 C470,98 469,106 471,113 C474,120 480,124 487,126.5 C496,129.5 506,130 514,129 C522,128 528,126.5 533,124.5"/>
<path stroke="#fff" stroke-width="2" d="M473.5,91 C470,98 469,106 471,113 C474,120 480,124 487,126.5 C496,129.5 506,130 514,129 C522,128 528,126.5 533,124.5"/>
<path stroke="#000" stroke-width="4.6" d="M544,119.3 L550.3,119.3 L537.6,170 L537.6,184"/>
<path stroke="#fff" stroke-width="2.4" d="M544,119.3 L550.3,119.3 L537.6,170 L537.6,184"/>
</g>
<g class="t" style="stroke-width:1.2">
<path d="M474.7,72.5 L484.9,76.3 L478.8,91.5 L475,93.5 L470.5,92.5 L468,90 Z"/>
<path class="n" d="M473.5,78.8 L481.4,82.6 M471.2,85.8 L478.6,88.7"/>
<path d="M530.5,122 L532.1,120.4 L541.4,116.3 L543,116.8 L545,121.5 L545.2,123.1 L538.1,128.6 L533.7,129.1 L532.7,127.5 L531,127.8 Z"/>
<path class="n" d="M532.7,121.8 C535,123 537,125 537.6,128"/>
<path d="M532.4,184.8 C534,183.5 539,183.3 541.8,184 C543,184.8 543,187.5 541.8,189.8 C541,191.5 539.5,191.6 537,191.3 L533.5,190 C532,189 531.8,186.5 532.4,184.8 Z"/><path class="n" d="M536.2,190.5 C536.3,188 538,186 540.8,184.6"/>
</g>
<!-- shield part 4 -->
<g id="shield">
<path class="t" style="stroke-width:1.6" d="M288.3,104.7 C300,96 318,84 335.4,82.9 C355,82 372,95 379.4,112.5 C386,128 386,152 382,172 C378,188 366,204 346.4,215.9 L345.8,220 L344,225.9 L338.2,231.1 L323,235.8 L295,232.9 L291.8,206 C292,200 293,197.5 295.5,196.7 L302.6,196.7 L304.3,202.5 L311.3,202.5 C314,201 317,199 320.7,197.3 C330,192 338,190 345,184.4 C352,176 354.5,168 354,160 C353.5,154 353.5,149 353.6,145 C353,138 350,131 345,130.6 L335.4,130.6 C331,132 329,134.5 326,134.2 C320,134 315,131 311.6,129.7 C308,127.5 306,125.5 303.2,125.4 L301,127 C300.5,131 300.5,133 297.9,136.6 L291.5,136.6 C289.5,135 288.8,134 288.8,132.3 L288.3,111.1 L291,109.5 L291.5,106.3 Z"/>
<g class="n">
<path d="M291.5,109.5 L303.2,101 L314.8,115.3 L315.4,131.3"/>
<path d="M300.5,105.3 L302.6,123.3"/>
<path d="M307.4,98.9 C325,90 345,87 356.4,93.4 C366,98 372,106 375,114 C380,126 381,140 380.3,152.6 C380,162 379,170 376.5,178 C372,190 362,203 346.9,213"/>
<path d="M318.2,114.4 C328,110 345,106 356.4,110.6 C364,115 369,126 372,136 C374,145 374,160 373.6,165 C373,175 369,185 360.3,194 C355,199 352,201 348.8,203.5"/>
<path d="M319,130.5 C328,128 340,124 352.6,129.7 C356,133 357.4,138 357.4,143 C358,152 358.3,162 357.5,172 C356,180 352,186 346.9,188.2 C340,192 332,196 325.9,199.7"/>
<ellipse cx="294.7" cy="131.8" rx="2.1" ry="2.8" transform="rotate(25 294.7 131.8)"/>
<ellipse cx="355.3" cy="154" rx="1.3" ry="1.7"/>
<ellipse cx="298.2" cy="202.6" rx="2.2" ry="2.8" transform="rotate(25 298.2 202.6)"/>
<path d="M304.3,206 L306.1,213.6"/>
<path d="M314.3,207.8 L332.4,201.9 L344,206.6 L342.9,212.4 L334.7,206 L319.5,211.3 Z"/>
<path d="M319.5,211.3 L318.9,215.3"/>
<path d="M295,221.2 L304.9,217.1 L318.9,217.7"/>
<path d="M296.8,229.9 L306.7,226.4 L318.9,227.6 L323,235.8"/>
<path d="M341.7,215.3 L342.9,224.7"/>
</g>
</g>
<!-- hub part 2 -->
<g id="hub">
<path class="t" style="stroke-width:1.6" d="M415.5,187.5 C410,186 404,186.5 398.5,190.5 C392.5,195 390.3,203 390.5,210 C391,217 393,222 398.5,227 L412,240 L418,186 Z"/>
<path class="n" d="M400.9,191.3 C404,190.4 408,190.2 412,190.8"/>
<path class="n" d="M393.5,197 L396.4,207.6 L394,215 L395.2,222.4"/>
<path class="n" d="M401.4,192.7 L399.3,197.5 L400.9,203.3"/>
<g transform="translate(433,218) rotate(20)">
<path d="M-7.5,-35.8 L0,-35.8 A27,35.8 0 0 1 0,35.8 L-7.5,35.8 A27,35.8 0 0 1 -7.5,-35.8 Z" fill="#fff" stroke="#000" stroke-width="1.5"/>
<path class="n" d="M0,-35.8 A27,35.8 0 0 0 0,35.8"/>
</g>
<g class="n">
<ellipse cx="434.7" cy="219.5" rx="16.5" ry="18" transform="rotate(25 434.7 219.5)"/>
<ellipse cx="439" cy="221" rx="12.5" ry="16" transform="rotate(25 439 221)"/>
<ellipse cx="436" cy="219.8" rx="9" ry="13.5" transform="rotate(25 436 219.8)"/>
<ellipse cx="436" cy="219.8" rx="5.5" ry="7" transform="rotate(25 436 219.8)"/>
<ellipse cx="430.7" cy="192.8" rx="2.1" ry="2.6" transform="rotate(25 430.7 192.8)"/>
<ellipse cx="453.3" cy="201.9" rx="2.1" ry="2.6" transform="rotate(25 453.3 201.9)"/>
<ellipse cx="447.1" cy="234.2" rx="2.1" ry="2.6" transform="rotate(25 447.1 234.2)"/>
<ellipse cx="421.1" cy="243.4" rx="2.1" ry="2.6" transform="rotate(25 421.1 243.4)"/>
</g>
</g>
<!-- bolt part 3 -->
<g id="bolt">
<path class="t" style="stroke-width:1.4" d="M387.8,243.5 L402.5,249.8 C404,250.6 404,254 401.2,254.9 L385.3,248.9 Z"/>
<path class="n" d="M399.7,248.6 C401.5,249.3 401.3,253 399.2,254"/>
<path class="t" style="stroke-width:1.5" d="M375.7,244.1 L377.6,239.3 L381.8,237.4 L385.9,239 L387.5,243.1 L385.9,248.6 L381.5,250.5 L377,248.2 Z"/>
<path class="n" d="M377.6,239.3 L379.6,240.5 L380.2,246.7 L377,248.2 M380.2,246.7 L382.5,249.5 M379.6,240.5 L383.5,239.5 M384.5,239.6 C382.8,242 382.6,246.5 384.5,249.3"/>
</g>
<!-- rotor part 1 -->
<g transform="translate(522.8,278.1) rotate(27.7)">
<path d="M-15.3,-73.15 L0,-73.15 A53.3,73.15 0 0 1 0,73.15 L-15.3,73.15 A53.3,73.15 0 0 1 -15.3,-73.15 Z" fill="#fff" stroke="#000" stroke-width="1.6"/>
<path class="n" d="M-7,-73.15 A53.3,73.15 0 0 0 -7,73.15"/>
<path class="n" d="M0,-73.15 A53.3,73.15 0 0 0 0,73.15"/>
</g>
<ellipse class="n" cx="523.8" cy="279" rx="33.5" ry="47" transform="rotate(28 523.8 279)"/>
<g transform="translate(527.9,281.2) rotate(25)">
<path class="n" d="M0,-34.4 L-9,-34.4 A25.5,34.4 0 0 0 -9,34.4 L0,34.4"/>
<ellipse class="n" cx="0" cy="0" rx="25.5" ry="34.4"/>
<ellipse class="n" cx="0" cy="0" rx="10.4" ry="14"/>
</g>
<g class="n">
<ellipse cx="526.3" cy="258.9" rx="2.3" ry="2.9" transform="rotate(25 526.3 258.9)"/>
<ellipse cx="545.3" cy="267.8" rx="2.3" ry="2.9" transform="rotate(25 545.3 267.8)"/>
<ellipse cx="540.6" cy="294.5" rx="2.3" ry="2.9" transform="rotate(25 540.6 294.5)"/>
<ellipse cx="517.4" cy="302.5" rx="2.3" ry="2.9" transform="rotate(25 517.4 302.5)"/>
<ellipse cx="508.5" cy="281.8" rx="2.3" ry="2.9" transform="rotate(25 508.5 281.8)"/>
</g>
<!-- labels -->
<g id="labels" style="will-change:transform">
<text x="304.5" y="61">8</text>
<text x="423" y="79.5">7</text>
<text x="256" y="137">4</text>
<text x="567" y="159">9</text>
<text x="231" y="232">5</text>
<text x="388" y="294">3</text>
<text x="403" y="344">2</text>
<text x="505" y="391.5">1</text>
<text x="141.5" y="432">6</text>
</g>
<!-- leaders -->
<g class="b" style="stroke-width:1.5">
<path d="M319,49.7 H333"/>
<path d="M420.6,69 H407"/>
<path d="M270.8,127.8 H284"/>
<path d="M564.6,147.8 H552"/>
<path d="M236.9,233.4 V244.5"/>
<path d="M393.4,271.4 V258"/>
<path d="M393.4,299 V314.5 H425.2 V258"/>
<path d="M409.6,314.5 V321.7"/>
<path d="M510.8,367.2 V353"/>
<path d="M108,352 V402 H182.8 V389"/>
<path d="M148.1,402 V409.5"/>
</g>
<g class="ah">
<path d="M339,49.7 L332,45.9 L332,53.5 Z"/>
<path d="M402,69 L408,65.3 L408,72.7 Z"/>
<path d="M289,127.8 L282,124 L282,131.6 Z"/>
<path d="M546.8,147.8 L553,144 L553,151.6 Z"/>
<path d="M393.4,252.9 L389.9,259 L396.9,259 Z"/>
<path d="M425.2,253.2 L421.7,259.3 L428.7,259.3 Z"/>
<path d="M510.8,348.1 L507.3,354.5 L514.3,354.5 Z"/>
<path d="M182.8,383.7 L179.3,390 L186.3,390 Z"/>
<path d="M108,346 L104.5,352.3 L111.5,352.3 Z"/>
</g>
</svg>
</body></html>
